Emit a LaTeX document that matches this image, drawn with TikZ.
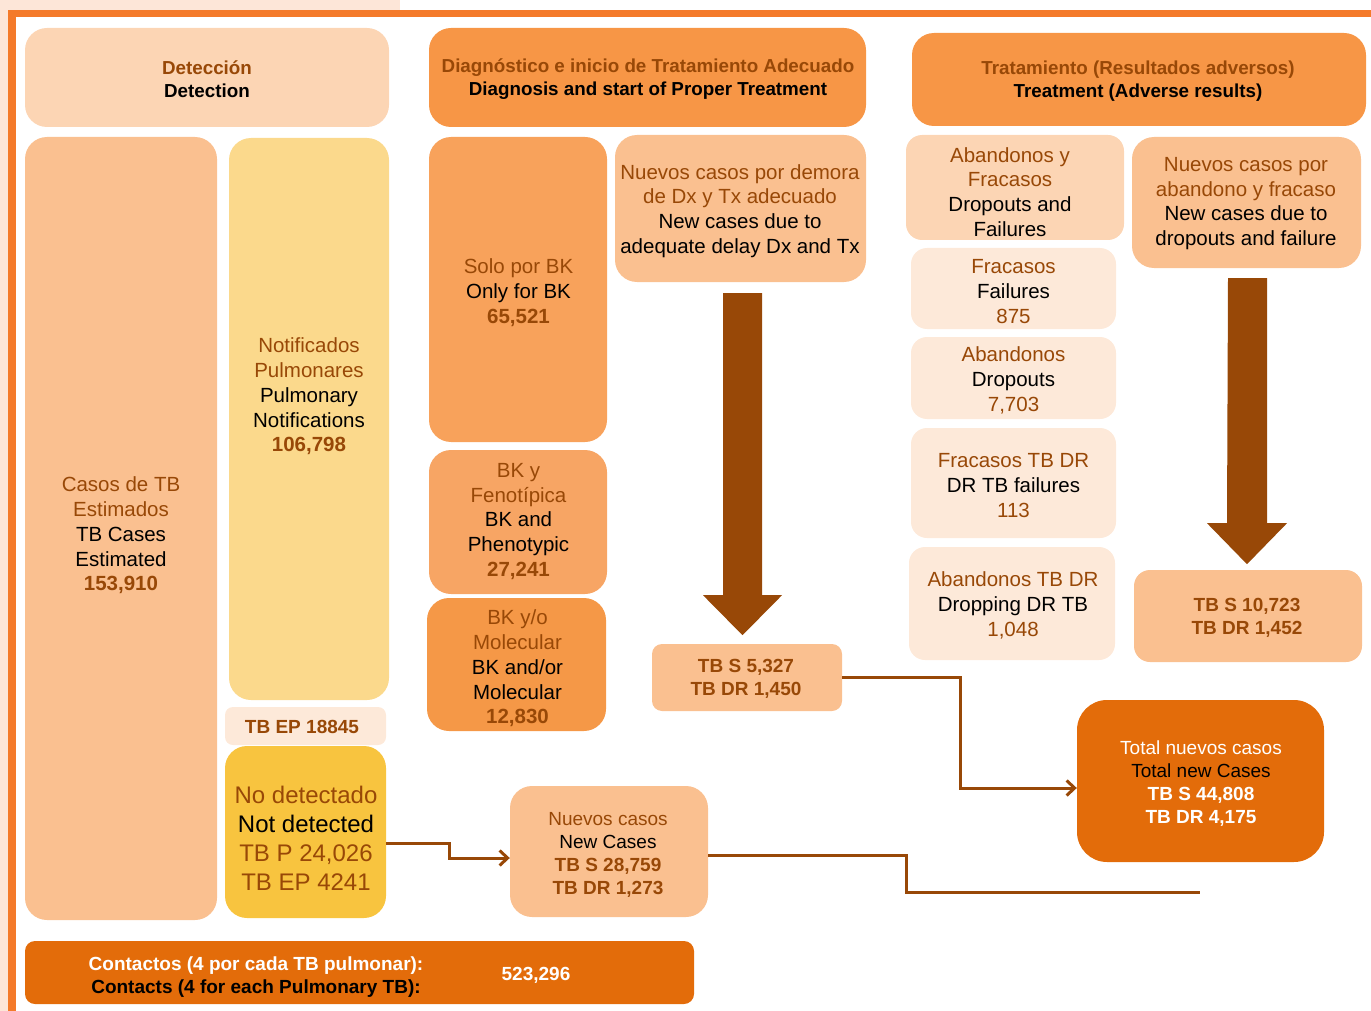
\documentclass[tikz,border=0pt]{standalone}
\usepackage{fontspec}
\setmainfont{Liberation Sans}
\usetikzlibrary{arrows.meta,calc}
\definecolor{tbrown}{HTML}{984807}
\definecolor{framec}{HTML}{F47A2A}
\definecolor{bgpeach}{HTML}{FDE6D8}
\definecolor{cpeachL}{HTML}{FCD5B4}
\definecolor{cpeach}{HTML}{FAC090}
\definecolor{cpale}{HTML}{FDE9D9}
\definecolor{corange}{HTML}{F79646}
\definecolor{cdark}{HTML}{E36C0A}
\definecolor{cyelL}{HTML}{FBD98C}
\definecolor{cyel}{HTML}{F8C43F}
\definecolor{csolo}{HTML}{F8A25B}
\definecolor{cfen}{HTML}{F7A564}
\definecolor{cmol}{HTML}{F59847}
\newcommand\brn[1]{\textcolor{tbrown}{#1}}
\newcommand\wht[1]{\textcolor{white}{#1}}
\begin{document}
\begin{tikzpicture}[x=1pt,y=-1pt,
  box/.style={rectangle,rounded corners=22pt,inner sep=0pt,align=center,text=black},
  txt/.style={align=center,inner sep=0pt,text=black},
  hdr/.style={font=\fontsize{18.8}{23}\selectfont\bfseries},
  body/.style={font=\fontsize{20.5}{24.7}\selectfont},
  sm/.style={font=\fontsize{19}{23}\selectfont},
  big/.style={font=\fontsize{24}{29}\selectfont},
  conn/.style={draw=tbrown,line width=3pt,-{Straight Barb[length=8pt,width=15pt]}},
  connfree/.style={draw=tbrown,line width=3pt},
  blockarrow/.style={fill=tbrown}
]
\useasboundingbox (0,0) rectangle (1371,1011);
% background and frame
\fill[bgpeach] (0,0) rectangle (400,10);
\fill[bgpeach] (0,0) rectangle (8,1011);
\fill[framec] (8,10) rectangle (1371,17);
\fill[framec] (8,10) rectangle (16,1011);

% headers
\node[box,hdr,fill=cpeachL,minimum width=364,minimum height=99] (hdet) at (207,77.5) {};
\node[txt,hdr] (hdett) at (207,79) {\brn{Detección}\\Detection};
\node[box,hdr,fill=corange,minimum width=437,minimum height=99] (hdia) at (647.5,77.5) {};
\node[txt,hdr] (hdiat) at (648,79)
  {\brn{Diagnóstico e inicio de Tratamiento Adecuado}\\Diagnosis and start of Proper Treatment};
\node[box,hdr,fill=corange,minimum width=454,minimum height=93] (htra) at (1139,79.5) {};
\node[txt,hdr] (htrat) at (1138,81)
  {\brn{Tratamiento (Resultados adversos)}\\Treatment (Adverse results)};

% detection column
\node[box,body,fill=cpeach,minimum width=192,minimum height=783] (cas) at (121,528.5) {};
\node[txt,body] (cast) at (121,535.5)
  {\brn{Casos de TB}\\\brn{Estimados}\\TB Cases\\Estimated\\\textbf{\brn{153,910}}};
\node[box,fill=cyelL,minimum width=160,minimum height=562] (notif) at (309,419) {};
\node[txt,body] (notift) at (309,396.5)
  {\brn{Notificados}\\\brn{Pulmonares}\\Pulmonary\\Notifications\\\textbf{\brn{106,798}}};
\node[box,sm,rounded corners=8pt,fill=cpale,minimum width=161,minimum height=38] (tbep) at (305.5,726) {};
\node[txt,sm] (tbept) at (302,727) {\textbf{\brn{TB EP 18845}}};
\node[box,big,fill=cyel,minimum width=161,minimum height=172] (nodet) at (305.5,832) {};
\node[txt,big] (nodett) at (306,838.5)
  {\brn{No detectado}\\Not detected\\\brn{TB P 24,026}\\\brn{TB EP 4241}};

% diagnosis column
\node[box,body,fill=csolo,minimum width=178,minimum height=305] (solo) at (518,289.5) {};
\node[txt,body] (solot) at (518.5,292.5) {\brn{Solo por BK}\\Only for BK\\\textbf{\brn{65,521}}};
\node[box,body,fill=cfen,minimum width=178,minimum height=144] (fen) at (518,522) {};
\node[txt,body] (fent) at (518.5,521.5)
  {\brn{BK y}\\\brn{Fenotípica}\\BK and\\Phenotypic\\\textbf{\brn{27,241}}};
\node[box,body,fill=cmol,minimum width=179,minimum height=133] (mol) at (516.5,664.5) {};
\node[txt,body] (molt) at (517.5,668.5)
  {\brn{BK y/o}\\\brn{Molecular}\\BK and/or\\Molecular\\\textbf{\brn{12,830}}};
\node[box,body,fill=cpeach,minimum width=251,minimum height=147] (dem) at (740.5,208.5) {};
\node[txt,body] (demt) at (740,211)
  {\brn{Nuevos casos por demora}\\\brn{de Dx y Tx adecuado}\\New cases due to\\adequate delay Dx and Tx};
\node[box,sm,rounded corners=10pt,fill=cpeach,minimum width=190,minimum height=67] (tbs1) at (747,677.5) {};
\node[txt,sm] (tbs1t) at (746,679) {\textbf{\brn{TB S 5,327}}\\\textbf{\brn{TB DR 1,450}}};

% treatment column
\node[box,body,rounded corners=16pt,fill=cpeachL,minimum width=218,minimum height=105] (ayf) at (1015,187.5) {};
\node[txt,body] (ayft) at (1010,192)
  {\brn{Abandonos y}\\\brn{Fracasos}\\Dropouts and\\Failures};
\node[box,body,rounded corners=16pt,fill=cpale,minimum width=205,minimum height=81] (fra) at (1013.5,288.5) {};
\node[txt,body] (frat) at (1013.5,291.5) {\brn{Fracasos}\\Failures\\\brn{875}};
\node[box,body,rounded corners=16pt,fill=cpale,minimum width=205,minimum height=82] (aba) at (1013.5,378) {};
\node[txt,body] (abat) at (1013.5,380.5) {\brn{Abandonos}\\Dropouts\\\brn{7,703}};
\node[box,body,rounded corners=16pt,fill=cpale,minimum width=205,minimum height=110] (fdr) at (1013.5,483) {};
\node[txt,body] (fdrt) at (1013.5,485.5) {\brn{Fracasos TB DR}\\DR TB failures\\\brn{113}};
\node[box,body,rounded corners=16pt,fill=cpale,minimum width=206,minimum height=113] (adr) at (1012,603.5) {};
\node[txt,body] (adrt) at (1013,605.5) {\brn{Abandonos TB DR}\\Dropping DR TB\\\brn{1,048}};
\node[box,body,fill=cpeach,minimum width=229,minimum height=131] (nab) at (1246.5,202.5) {};
\node[txt,body] (nabt) at (1246,203.5)
  {\brn{Nuevos casos por}\\\brn{abandono y fracaso}\\New cases due to\\dropouts and failure};
\node[box,sm,rounded corners=16pt,fill=cpeach,minimum width=228,minimum height=92] (tbs2) at (1248,616) {};
\node[txt,sm] (tbs2t) at (1247,617.5) {\textbf{\brn{TB S 10,723}}\\\textbf{\brn{TB DR 1,452}}};

% totals
\node[box,sm,rounded corners=30pt,fill=cdark,minimum width=247,minimum height=162] (tot) at (1200.5,781) {};
\node[txt,sm] (tott) at (1201,783.5)
  {\wht{Total nuevos casos}\\Total new Cases\\\textbf{\wht{TB S 44,808}}\\\textbf{\wht{TB DR 4,175}}};
\node[box,sm,fill=cpeach,minimum width=198,minimum height=131] (nue) at (609,851.5) {};
\node[txt,sm] (nuet) at (608,854.5)
  {\brn{Nuevos casos}\\New Cases\\\textbf{\brn{TB S 28,759}}\\\textbf{\brn{TB DR 1,273}}};

% contacts bar
\node[box,rounded corners=10pt,fill=cdark,minimum width=669,minimum height=63] (con) at (359.5,972.5) {};
\node[txt,font=\fontsize{19}{23}\selectfont\bfseries] (cont) at (256,977)
  {\wht{Contactos (4 por cada TB pulmonar):}\\Contacts (4 for each Pulmonary TB):};
\node[inner sep=0pt,font=\fontsize{19}{23}\selectfont\bfseries,text=white] (conn) at (536,975) {523,296};

% block arrows
\fill[blockarrow] ($(dem.south)+(-17.5,11)$) -- ++(39,0) -- ++(0,302) -- ++(20,0)
  -- ++(-39.5,40) -- ++(-39.5,-40) -- ++(20,0) -- cycle;
\fill[blockarrow] ($(nab.south)+(-18.5,10)$) -- ++(39,0) -- ++(0,245) -- ++(20,0)
  -- ++(-40,41) -- ++(-40,-41) -- ++(20,0) -- cycle;

% connectors
\coordinate (endc) at (1200,892);
\draw[conn] ([yshift=-11pt]nodet.east) -- ++(63,0) |- ([yshift=-6.5pt]nue.west);
\draw[conn] (tbs1.east) -- ++(118,0) |- ([yshift=-7pt]tot.west);
\draw[connfree] ([yshift=-3.5pt]nue.east) -- ++(198,0) |- (endc);
\end{tikzpicture}
\end{document}
